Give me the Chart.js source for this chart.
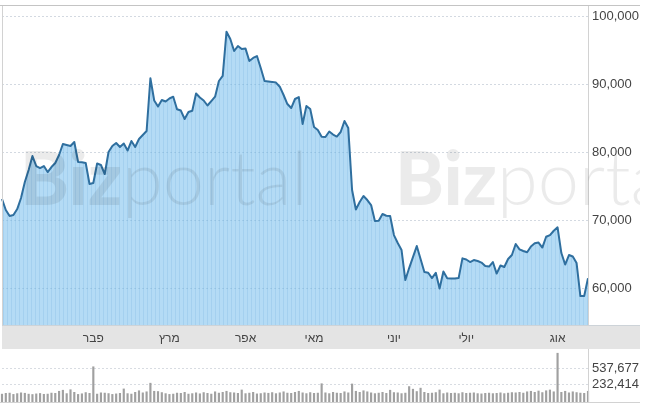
<!DOCTYPE html>
<html><head><meta charset="utf-8">
<script src="https://cdn.jsdelivr.net/npm/chart.js@4"></script>
<style>
html,body{margin:0;padding:0;background:#fff;}
#wrap{position:relative;width:648px;height:408px;overflow:hidden;}
#mainBox{position:absolute;left:0;top:0;width:648px;height:349px;}
#volBox{position:absolute;left:0;top:349px;width:648px;height:59px;}
#wmBox{position:absolute;left:0;top:0;width:640px;height:330px;overflow:hidden;pointer-events:none;}
.wm{position:absolute;top:140px;font-family:Lato,'Open Sans',sans-serif;font-size:74px;line-height:1;color:rgba(0,0,0,0.08);white-space:nowrap;}
.wm b{font-weight:900;}
.wm span{font-weight:300;}
</style>
</head><body>
<div id="wrap">
  <div id="mainBox"><canvas id="main"></canvas></div>
  <div id="volBox"><canvas id="vol"></canvas></div>
  <div id="wmBox">
    <div class="wm" style="left:20px"><b>Biz</b><span>portal</span></div>
    <div class="wm" style="left:395px"><b>Biz</b><span>portal</span></div>
  </div>
</div>
<script>
const prices = [
73150, 71530, 70640, 70790, 71670, 73300, 75650, 77420, 79480, 78010,
77710, 78010, 77120, 77860, 78450, 79630, 81250, 81100, 80950, 81540,
78600, 78550, 78450, 75360, 75500, 78380, 78160, 76830, 80070, 80950,
81400, 80810, 81320, 80290, 81690, 80810, 81990, 82570, 83160, 90930,
87660, 86770, 87730, 87510, 87950, 88220, 86360, 86180, 84930, 85960,
86150, 88690, 88100, 87660, 86920, 87580, 88220, 90530, 91270, 97790,
96720, 94950, 95680, 95240, 95300, 93480, 93920, 94210, 92440, 90530,
90460, 90400, 90300, 89690, 88470, 87140, 86550, 87880, 88170, 84200,
86850, 86400, 83750, 83310, 82320, 82280, 83090, 82650, 82350, 83020,
84640, 83610, 74470, 71600, 72710, 73590, 73000, 72260, 69910, 69950,
70940, 70690, 70640, 67840, 66670, 65640, 61220, 62980, 64600, 66220,
64310, 62390, 62290, 61510, 62290, 59960, 62470, 61470, 61450, 61450,
61500, 64410, 64240, 63870, 64160, 64020, 63790, 63280, 63200, 63870,
62170, 63350, 63130, 64310, 64900, 66520, 65740, 65490, 65300, 66150,
66620, 66740, 66000, 67590, 67840, 68480, 68980, 65190, 63500, 64900,
64680, 63720, 58860, 58860, 61470
];
const volumes = [
40000, 55000, 60000, 35000, 50000, 65000, 57000, 40000, 33000, 45000,
53000, 37000, 41000, 60000, 55000, 95000, 115000, 50000, 125000, 75000,
35000, 47000, 70000, 55000, 565000, 41000, 65000, 60000, 51000, 35000,
45000, 55000, 140000, 50000, 41000, 75000, 105000, 65000, 85000, 250000,
95000, 90000, 70000, 50000, 35000, 41000, 60000, 55000, 75000, 41000,
50000, 65000, 47000, 70000, 55000, 41000, 85000, 60000, 75000, 95000,
70000, 65000, 55000, 120000, 50000, 60000, 75000, 45000, 51000, 65000,
57000, 70000, 50000, 65000, 85000, 60000, 55000, 75000, 95000, 65000,
50000, 70000, 55000, 60000, 240000, 65000, 50000, 75000, 60000, 55000,
85000, 65000, 235000, 95000, 75000, 105000, 85000, 65000, 50000, 60000,
75000, 55000, 115000, 70000, 65000, 50000, 60000, 185000, 135000, 90000,
155000, 75000, 55000, 60000, 70000, 120000, 50000, 65000, 55000, 60000,
50000, 70000, 55000, 60000, 65000, 50000, 45000, 55000, 60000, 50000,
55000, 65000, 50000, 60000, 70000, 65000, 75000, 60000, 85000, 95000,
75000, 100000, 70000, 105000, 120000, 85000, 825000, 75000, 95000, 65000,
85000, 70000, 60000, 55000, 95000
];
const monthNames = ['פבר', 'מרץ', 'אפר', 'מאי', 'יוני', 'יולי', 'אוג'];
const monthStartIdx = [24, 44, 64, 82, 103, 122, 146];
const priceTicks = [60000, 70000, 80000, 90000, 100000];
const volumeTicks = [232414, 537677];
const priceMin = 54595, priceMax = 101576;
const volMin = -111000, volMax = 906000;

const labels = prices.map((_, i) => {
  const k = monthStartIdx.indexOf(i);
  return k >= 0 ? monthNames[k] : '';
});
const FONT = "Arial, 'Liberation Sans', sans-serif";
const fmt = v => Number(v).toLocaleString('en-US');
const fitY = s => { s.width = 60; s.paddingTop = 0; s.paddingBottom = 0; s.paddingLeft = 0; s.paddingRight = 0; };
const fitX = s => { s.height = 24; s.paddingLeft = 0; s.paddingRight = 0; s.paddingTop = 0; s.paddingBottom = 0; };

// striped area fill texture
const pc = document.createElement('canvas');
pc.width = 4; pc.height = 4;
const pctx = pc.getContext('2d');
pctx.fillStyle = 'rgba(130,195,238,0.6)';
pctx.fillRect(0, 0, 3, 4);
pctx.fillStyle = 'rgba(104,177,228,0.6)';
pctx.fillRect(3, 0, 1, 4);
const fillPattern = pctx.createPattern(pc, 'repeat');

const mainDeco = {
  id: 'mainDeco',
  beforeDraw(chart) {
    const {ctx, chartArea: a} = chart;
    ctx.save();
    ctx.fillStyle = '#e4e4e4';
    ctx.fillRect(2, a.bottom, 638, chart.height - a.bottom);
    ctx.restore();
  },
  afterDraw(chart) {
    const {ctx, chartArea: a} = chart;
    ctx.save();
    ctx.lineWidth = 1;
    ctx.strokeStyle = '#c4c4c4';
    ctx.beginPath();
    ctx.moveTo(0, a.top - 0.5); ctx.lineTo(640, a.top - 0.5);
    ctx.stroke();
    ctx.strokeStyle = '#d2d2d2';
    ctx.beginPath();
    ctx.moveTo(2.5, a.top); ctx.lineTo(2.5, a.bottom);
    ctx.moveTo(a.right + 0.5, a.top); ctx.lineTo(a.right + 0.5, a.bottom);
    ctx.stroke();
    ctx.strokeStyle = '#cdd3d8';
    ctx.beginPath();
    ctx.moveTo(2, a.bottom + 0.5); ctx.lineTo(640, a.bottom + 0.5);
    ctx.stroke();
    ctx.restore();
  }
};
const volDeco = {
  id: 'volDeco',
  afterDraw(chart) {
    const {ctx, chartArea: a} = chart;
    ctx.save();
    ctx.lineWidth = 1;
    ctx.strokeStyle = '#d2d2d2';
    ctx.beginPath();
    ctx.moveTo(a.right + 0.5, a.top); ctx.lineTo(a.right + 0.5, a.bottom);
    ctx.moveTo(0, a.bottom + 0.5); ctx.lineTo(640, a.bottom + 0.5);
    ctx.stroke();
    ctx.restore();
  }
};

new Chart(document.getElementById('main'), {
  type: 'line',
  data: {
    labels: labels,
    datasets: [{
      data: prices,
      borderColor: '#2f6f9f',
      borderWidth: 2,
      backgroundColor: fillPattern,
      fill: 'start',
      pointRadius: 0,
      tension: 0,
      borderJoinStyle: 'round'
    }]
  },
  options: {
    responsive: true, maintainAspectRatio: false, animation: false,
    layout: {autoPadding: false, padding: {left: 2, top: 6, right: 0, bottom: 0}},
    plugins: {legend: {display: false}, tooltip: {enabled: false}},
    scales: {
      x: {
        type: 'category',
        offset: false,
        grid: {display: false, drawTicks: false},
        border: {display: false},
        afterFit: fitX,
        ticks: {
          autoSkip: false, maxRotation: 0, minRotation: 0, padding: 6,
          font: {family: FONT, size: 12}, color: '#444',
          callback: (v, i) => labels[i] || null
        }
      },
      y: {
        position: 'right',
        min: priceMin, max: priceMax,
        afterBuildTicks: s => { s.ticks = priceTicks.map(v => ({value: v})); },
        afterFit: fitY,
        grid: {color: '#d3d9e1', drawTicks: false},
        border: {display: false, dash: [2, 2]},
        ticks: {padding: 4, font: {family: FONT, size: 13}, color: '#444', callback: v => fmt(v)}
      }
    }
  },
  plugins: [mainDeco]
});

new Chart(document.getElementById('vol'), {
  type: 'bar',
  data: {
    labels: labels,
    datasets: [{
      data: volumes,
      backgroundColor: '#a0a0a0',
      barThickness: 1.5,
      base: volMin,
      clip: false
    }]
  },
  options: {
    responsive: true, maintainAspectRatio: false, animation: false,
    layout: {autoPadding: false, padding: {left: 2, top: 0, right: 0, bottom: 6}},
    plugins: {legend: {display: false}, tooltip: {enabled: false}},
    scales: {
      x: {type: 'category', offset: false, display: false},
      y: {
        position: 'right',
        min: volMin, max: volMax,
        afterBuildTicks: s => { s.ticks = volumeTicks.map(v => ({value: v})); },
        afterFit: fitY,
        grid: {color: '#d8dce2', drawTicks: false},
        border: {display: false, dash: [2, 2]},
        ticks: {padding: 4, font: {family: FONT, size: 13}, color: '#444', callback: v => fmt(v)}
      }
    }
  },
  plugins: [volDeco]
});
</script>
</body></html>
